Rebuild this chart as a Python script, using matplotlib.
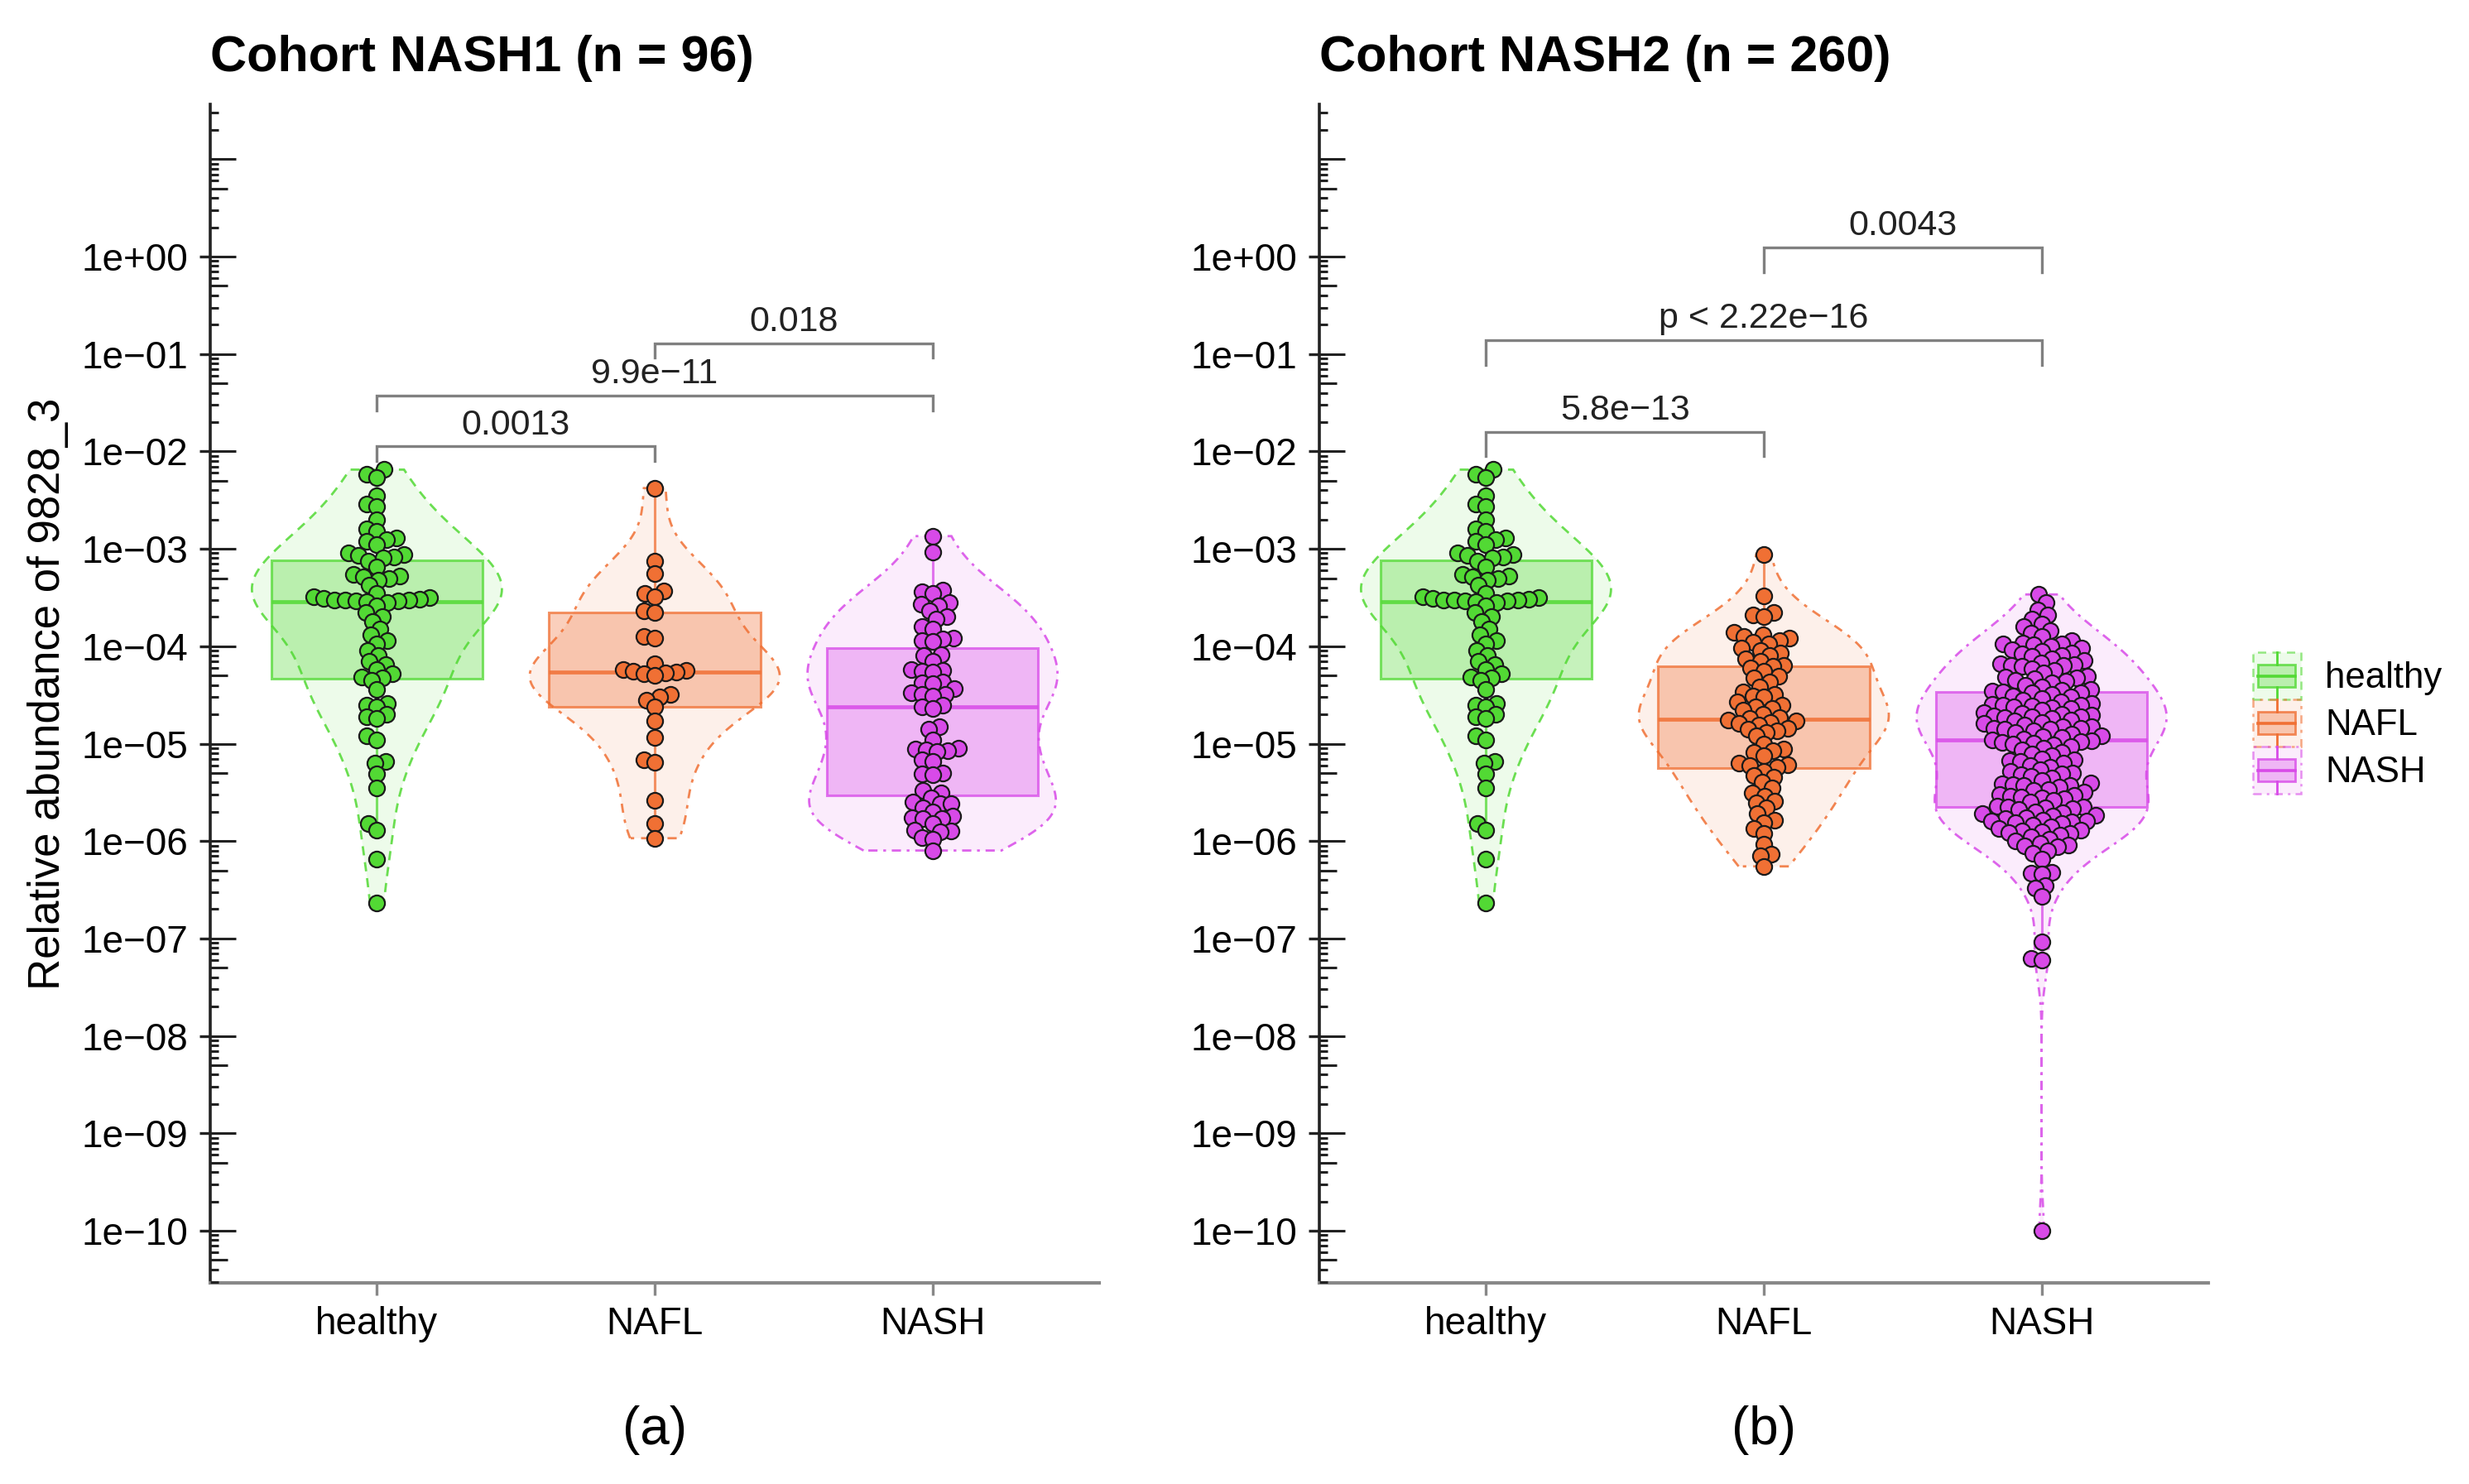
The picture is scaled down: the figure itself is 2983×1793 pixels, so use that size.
import numpy as np
import matplotlib
matplotlib.use("Agg")
import matplotlib.pyplot as plt
from matplotlib.patches import Rectangle, Polygon
from matplotlib.lines import Line2D
from matplotlib.legend_handler import HandlerBase
import matplotlib.transforms as mtransforms
from matplotlib.ticker import FixedLocator, FuncFormatter

plt.rcParams['font.family'] = ['Liberation Sans', 'DejaVu Sans']

# ---------------- data ----------------
groups = ['healthy', 'NAFL', 'NASH']

healthy = [6.5e-3, 5.8e-3, 5.4e-3, 3.5e-3, 2.9e-3, 2.7e-3, 2.0e-3, 1.6e-3, 1.5e-3,
           1.3e-3, 1.25e-3, 1.2e-3, 1.1e-3, 9.0e-4, 8.8e-4, 8.5e-4, 8.3e-4, 8.0e-4,
           7.5e-4, 6.5e-4, 5.5e-4, 5.3e-4, 5.2e-4, 5.0e-4, 4.8e-4, 4.2e-4, 3.5e-4,
           3.2e-4, 3.15e-4, 3.1e-4, 3.05e-4, 3.0e-4, 3.0e-4, 2.95e-4, 2.9e-4, 2.9e-4,
           2.85e-4, 2.8e-4, 2.6e-4, 2.2e-4, 2.0e-4, 1.8e-4, 1.5e-4, 1.3e-4, 1.15e-4,
           1.05e-4, 9.0e-5, 8.0e-5, 7.0e-5, 6.5e-5, 5.8e-5, 5.2e-5, 4.8e-5, 4.7e-5,
           4.5e-5, 3.6e-5, 2.6e-5, 2.5e-5, 2.4e-5, 2.0e-5, 1.9e-5, 1.8e-5, 1.2e-5,
           1.1e-5, 6.6e-6, 6.3e-6, 4.9e-6, 3.5e-6, 1.5e-6, 1.3e-6, 6.5e-7, 2.3e-7]

nash1_nafl = [4.2e-3, 7.4e-4, 5.6e-4, 3.7e-4, 3.5e-4, 3.2e-4, 2.3e-4, 2.2e-4, 1.25e-4,
              1.2e-4, 6.6e-5, 5.8e-5, 5.6e-5, 5.5e-5, 5.4e-5, 5.3e-5, 5.2e-5, 5.0e-5,
              3.2e-5, 3.0e-5, 2.8e-5, 2.4e-5, 1.7e-5, 1.15e-5, 6.8e-6, 6.4e-6, 2.6e-6,
              1.5e-6, 1.07e-6]

nash1_nash = [1.35e-3, 9.3e-4, 3.8e-4, 3.6e-4, 3.5e-4, 2.8e-4, 2.7e-4, 2.6e-4, 2.3e-4,
              2.0e-4, 1.9e-4, 1.6e-4, 1.5e-4, 1.2e-4, 1.18e-4, 1.15e-4, 1.12e-4,
              8.2e-5, 8.0e-5, 7.0e-5, 5.8e-5, 5.6e-5, 5.5e-5, 5.4e-5, 4.3e-5, 4.2e-5,
              4.1e-5, 3.7e-5, 3.3e-5, 3.2e-5, 3.2e-5, 3.1e-5, 2.5e-5, 2.4e-5,
              2.3e-5, 1.5e-5, 1.4e-5, 1.1e-5, 9.0e-6, 8.8e-6, 8.7e-6, 8.5e-6, 8.3e-6,
              6.8e-6, 6.6e-6, 5.0e-6, 4.9e-6, 4.8e-6, 3.3e-6, 3.1e-6,
              2.8e-6, 2.5e-6, 2.4e-6, 2.4e-6, 2.2e-6, 2.0e-6, 1.8e-6, 1.75e-6, 1.7e-6,
              1.7e-6, 1.5e-6, 1.3e-6, 1.28e-6, 1.25e-6, 1.08e-6, 1.05e-6, 8.0e-7]

nash2_nafl = [8.7e-4, 3.3e-4, 2.2e-4, 2.1e-4, 2.0e-4, 1.4e-4, 1.3e-4, 1.25e-4, 1.2e-4,
              1.15e-4, 1.1e-4, 1.05e-4, 9.5e-5, 9.1e-5, 8.5e-5, 8.0e-5, 7.5e-5, 7.0e-5,
              6.4e-5,
              6.2e-5, 6.0e-5, 5.5e-5, 4.9e-5, 4.7e-5, 4.3e-5, 3.8e-5, 3.4e-5, 3.2e-5,
              3.1e-5, 3.0e-5, 2.7e-5, 2.5e-5, 2.4e-5, 2.3e-5, 2.2e-5, 2.0e-5, 1.85e-5,
              1.8e-5,
              1.75e-5, 1.7e-5, 1.65e-5, 1.6e-5, 1.55e-5, 1.45e-5, 1.4e-5, 1.35e-5, 1.3e-5,
              1.2e-5, 1.0e-5, 8.8e-6, 8.5e-6, 8.2e-6, 7.5e-6, 6.3e-6, 6.1e-6, 5.9e-6,
              5.7e-6,
              5.2e-6, 4.7e-6, 4.5e-6, 4.0e-6, 3.5e-6, 3.1e-6, 2.9e-6, 2.55e-6, 2.45e-6,
              2.2e-6, 1.9e-6, 1.65e-6, 1.55e-6, 1.35e-6, 1.2e-6, 9.3e-7, 7.4e-7, 7.0e-7,
              5.5e-7]

nash2_nash = [3.4e-4, 2.8e-4, 2.35e-4, 2.1e-4, 1.9e-4, 1.7e-4, 1.6e-4, 1.45e-4, 1.35e-4,
              1.25e-4, 1.15e-4, 1.08e-4, 1.06e-4, 1.05e-4, 1.03e-4, 1.0e-4, 9.5e-5, 9.2e-5,
              8.8e-5, 8.5e-5, 8.3e-5, 8.1e-5, 7.8e-5, 7.4e-5, 7.1e-5, 6.8e-5, 6.6e-5,
              6.5e-5, 6.4e-5, 6.3e-5, 6.2e-5, 5.9e-5, 5.6e-5, 5.3e-5, 4.9e-5, 4.8e-5,
              4.7e-5, 4.6e-5, 4.5e-5, 4.4e-5, 4.2e-5, 4.0e-5, 3.8e-5, 3.6e-5, 3.5e-5,
              3.45e-5,
              3.4e-5, 3.35e-5, 3.3e-5, 3.2e-5, 3.1e-5, 3.0e-5, 2.9e-5, 2.8e-5, 2.7e-5,
              2.6e-5, 2.55e-5, 2.5e-5, 2.5e-5, 2.45e-5, 2.4e-5, 2.35e-5, 2.3e-5, 2.2e-5,
              2.1e-5, 2.05e-5, 2.0e-5, 1.95e-5, 1.92e-5, 1.9e-5, 1.88e-5, 1.85e-5, 1.82e-5,
              1.75e-5, 1.7e-5, 1.65e-5, 1.6e-5, 1.55e-5, 1.5e-5, 1.48e-5, 1.45e-5, 1.43e-5,
              1.42e-5, 1.4e-5, 1.35e-5, 1.3e-5, 1.25e-5, 1.2e-5, 1.17e-5, 1.15e-5, 1.12e-5,
              1.1e-5,
              1.08e-5, 1.06e-5, 1.03e-5, 1.01e-5, 9.9e-6, 9.7e-6, 9.4e-6, 9.0e-6, 8.6e-6,
              8.2e-6, 7.8e-6, 7.5e-6, 7.0e-6, 6.8e-6, 6.7e-6, 6.6e-6, 6.3e-6, 6.0e-6,
              5.7e-6, 5.4e-6, 5.2e-6, 5.0e-6, 4.9e-6, 4.8e-6, 4.6e-6, 4.4e-6, 4.2e-6,
              3.95e-6, 3.85e-6, 3.8e-6, 3.75e-6, 3.7e-6, 3.6e-6, 3.4e-6, 3.3e-6, 3.2e-6,
              3.0e-6, 2.95e-6, 2.9e-6, 2.85e-6, 2.8e-6, 2.7e-6, 2.6e-6, 2.5e-6, 2.3e-6,
              2.25e-6,
              2.22e-6, 2.2e-6, 2.15e-6, 2.1e-6, 2.0e-6, 1.95e-6, 1.9e-6, 1.85e-6, 1.8e-6,
              1.75e-6, 1.7e-6, 1.65e-6, 1.62e-6, 1.6e-6, 1.58e-6, 1.55e-6, 1.5e-6, 1.45e-6,
              1.4e-6, 1.35e-6, 1.3e-6, 1.27e-6, 1.24e-6, 1.22e-6, 1.2e-6, 1.15e-6, 1.1e-6,
              1.05e-6, 1.0e-6, 9.5e-7, 9.1e-7, 8.9e-7, 8.7e-7, 8.0e-7, 7.5e-7, 6.5e-7,
              4.8e-7, 4.7e-7, 4.6e-7, 3.5e-7, 3.3e-7, 2.7e-7, 9.3e-8, 6.3e-8, 6.0e-8,
              1.0e-10]

panel_titles = ['Cohort NASH1 (n = 96)', 'Cohort NASH2 (n = 260)']
panel_tags = ['(a)', '(b)']
comparisons = [('healthy', 'NAFL'), ('healthy', 'NASH'), ('NAFL', 'NASH')]
pvalues_1 = ['0.0013', '9.9e\u221211', '0.018']
pvalues_2 = ['5.8e\u221213', 'p < 2.22e\u221216', '0.0043']
y_label = 'Relative abundance of 9828_3'

panels = [
    {'healthy': healthy, 'NAFL': nash1_nafl, 'NASH': nash1_nash},
    {'healthy': healthy, 'NAFL': nash2_nafl, 'NASH': nash2_nash},
]
panel_pvalues = [pvalues_1, pvalues_2]

# ---------------- styles / layout ----------------
colors = {'healthy': '#52d934', 'NAFL': '#f07034', 'NASH': '#d84ae8'}
violin_ls = {'healthy': (0, (4, 3)), 'NAFL': (0, (4, 3, 1.5, 3)), 'NASH': (0, (4, 2.5, 1.2, 2.5))}
bracket_y = [[-1.95, -1.43, -0.89], [-1.80, -0.86, 0.09]]
bracket_tip = [0.15, 0.25]
YLIM = (-10.535, 1.563)
XLIM = (0.4, 3.6)

W, H = 2983, 1793
fig = plt.figure(figsize=(W / 100, H / 100), dpi=100)
ax_w = 1074 / W
ax_h = 1424 / H
ax_b = 1 - 1550 / H
lefts = [254 / W, 1594 / W]
axes = [fig.add_axes([l, ax_b, ax_w, ax_h]) for l in lefts]

XPX = 1074 / (XLIM[1] - XLIM[0])
YPX = 1424 / (YLIM[1] - YLIM[0])
SWARM = 13.0  # px spacing


def swarm_offsets(yvals):
    ys = np.asarray(yvals) * YPX
    order = np.argsort(ys, kind='stable')
    px_list, py_list = [], []
    offs = np.zeros(len(ys))
    for i in order:
        y = ys[i]
        cands = [0.0]
        for px, py in zip(px_list, py_list):
            dy = abs(py - y)
            if dy < SWARM:
                dx = np.sqrt(SWARM ** 2 - dy ** 2)
                cands += [px + dx, px - dx]
        cands = sorted(cands, key=lambda c: (abs(c), c))
        chosen = cands[-1]
        for c in cands:
            if all((c - px) ** 2 + (y - py) ** 2 >= SWARM ** 2 - 1e-6
                   for px, py in zip(px_list, py_list)):
                chosen = c
                break
        px_list.append(chosen)
        py_list.append(y)
        offs[i] = chosen / XPX
    return offs


def kde_violin(v):
    v = np.asarray(v)
    n = len(v)
    sd = v.std(ddof=1)
    q75, q25 = np.percentile(v, [75, 25])
    lo = min(sd, (q75 - q25) / 1.34)
    bw = 0.9 * lo * n ** -0.2
    grid = np.linspace(v.min(), v.max(), 512)
    d = np.exp(-0.5 * ((grid[:, None] - v[None, :]) / bw) ** 2).sum(1) / (n * bw * np.sqrt(2 * np.pi))
    return grid, d / d.max() * 0.45


def tick_fmt(v, pos):
    k = int(round(v))
    s = '1e%+03d' % k
    return s.replace('-', '\u2212')


for pi, ax in enumerate(axes):
    data = panels[pi]
    for gi, g in enumerate(groups):
        x0 = gi + 1
        lv = np.log10(np.asarray(data[g]))
        col = colors[g]
        # violin
        grid, hw = kde_violin(lv)
        xs = np.concatenate([x0 - hw, (x0 + hw)[::-1]])
        ys = np.concatenate([grid, grid[::-1]])
        ax.add_patch(Polygon(np.column_stack([xs, ys]), closed=True,
                             facecolor=matplotlib.colors.to_rgba(col, 0.10),
                             edgecolor=matplotlib.colors.to_rgba(col, 0.85),
                             linestyle=violin_ls[g], linewidth=2.0, zorder=1))
        # box
        bp = ax.boxplot([lv], positions=[x0], widths=0.76, showfliers=False,
                        showcaps=False, patch_artist=True, manage_ticks=False,
                        boxprops=dict(facecolor=matplotlib.colors.to_rgba(col, 0.33),
                                      edgecolor=matplotlib.colors.to_rgba(col, 0.75),
                                      linewidth=2.2),
                        whiskerprops=dict(color=matplotlib.colors.to_rgba(col, 0.75), linewidth=2.2),
                        medianprops=dict(color=matplotlib.colors.to_rgba(col, 0.85), linewidth=3.4))
        for art in bp['boxes'] + bp['whiskers'] + bp['medians']:
            art.set_zorder(2)
        # points
        offs = swarm_offsets(lv)
        ax.scatter(x0 + offs, lv, s=190, facecolor=col, edgecolor='#1a1a1a',
                   linewidth=1.6, zorder=3)

    # significance brackets
    for ci, (g1, g2) in enumerate(comparisons):
        xa, xb = groups.index(g1) + 1, groups.index(g2) + 1
        yb = bracket_y[pi][ci]
        tip = bracket_tip[pi]
        ax.plot([xa, xa, xb, xb], [yb - tip, yb, yb, yb - tip], color='#808080',
                linewidth=2.4, zorder=4, solid_joinstyle='miter')
        ax.text((xa + xb) / 2, yb + 0.22, panel_pvalues[pi][ci], ha='center', va='center',
                fontsize=31, color='#222222', zorder=5)

    ax.set_xlim(*XLIM)
    ax.set_ylim(*YLIM)
    ax.set_xticks([1, 2, 3])
    ax.set_xticklabels(groups, fontsize=33)
    ax.yaxis.set_major_locator(FixedLocator(list(range(-10, 1))))
    ax.yaxis.set_major_formatter(FuncFormatter(tick_fmt))
    ax.tick_params(axis='y', which='major', direction='out', length=9.5, width=2.4,
                   color='#222222', labelsize=33, pad=10)
    ax.tick_params(axis='x', which='major', direction='out', length=11, width=2.4,
                   color='#888888', labelsize=33, pad=9)
    for sp in ['top', 'right']:
        ax.spines[sp].set_visible(False)
    ax.spines['left'].set_color('#222222')
    ax.spines['left'].set_linewidth(2.6)
    ax.spines['bottom'].set_color('#888888')
    ax.spines['bottom'].set_linewidth(3.0)

    # inner log ticks (annotation_logticks style)
    blend = mtransforms.blended_transform_factory(ax.transAxes, ax.transData)
    for k in range(-11, 2):
        for m in range(1, 10):
            yy = k + np.log10(m)
            if YLIM[0] <= yy <= YLIM[1]:
                ln = 31 if m == 1 else (21 if m == 5 else 10)
                ax.plot([0, ln / 1074], [yy, yy], transform=blend, color='#222222',
                        linewidth=2.2, solid_capstyle='butt', clip_on=False, zorder=4)

    fig.text(lefts[pi], 1 - 86 / H, panel_titles[pi], ha='left', va='baseline',
             fontsize=44, fontweight='bold', color='black')
    tag_tr = mtransforms.blended_transform_factory(ax.transData, fig.transFigure)
    ax.text(2, 0.036, panel_tags[pi], transform=tag_tr, ha='center', va='center',
            fontsize=46, color='black')

fig.text(58 / W, 1 - 838 / H, y_label, rotation=90, ha='center', va='center',
         fontsize=38, color='black')


# ---------------- legend ----------------
class BoxViolinKey(HandlerBase):
    def create_artists(self, legend, orig_handle, xdescent, ydescent, width, height,
                       fontsize, trans):
        col = orig_handle.get_color()
        x0, y0 = -xdescent, -ydescent
        arts = []
        outer = Rectangle((x0, y0), width, height, facecolor=matplotlib.colors.to_rgba(col, 0.10),
                          edgecolor=matplotlib.colors.to_rgba(col, 0.6), linewidth=1.8,
                          linestyle=orig_handle._ls_key, transform=trans)
        arts.append(outer)
        bx0, bx1 = x0 + 0.11 * width, x0 + 0.89 * width
        by0, by1 = y0 + 0.26 * height, y0 + 0.74 * height
        box = Rectangle((bx0, by0), bx1 - bx0, by1 - by0,
                        facecolor=matplotlib.colors.to_rgba(col, 0.33),
                        edgecolor=matplotlib.colors.to_rgba(col, 0.8), linewidth=2.0,
                        transform=trans)
        arts.append(box)
        xm = x0 + width / 2
        ym = y0 + height / 2
        arts.append(Line2D([bx0, bx1], [ym, ym], color=col, linewidth=2.6, transform=trans))
        arts.append(Line2D([xm, xm], [y0, by0], color=col, linewidth=2.0, transform=trans))
        arts.append(Line2D([xm, xm], [by1, y0 + height], color=col, linewidth=2.0, transform=trans))
        return arts


handles = []
for g in groups:
    h = Line2D([], [], color=colors[g])
    h._ls_key = violin_ls[g]
    handles.append(h)

fig.legend(handles, groups, handler_map={Line2D: BoxViolinKey()},
           loc='upper left', bbox_to_anchor=(2722 / W, 1 - 788 / H),
           bbox_transform=fig.transFigure, frameon=False, fontsize=31.5,
           handlelength=1.32, handleheight=1.63, labelspacing=0.0,
           handletextpad=0.68, borderpad=0, borderaxespad=0)

fig.savefig('out.png', dpi=100)
